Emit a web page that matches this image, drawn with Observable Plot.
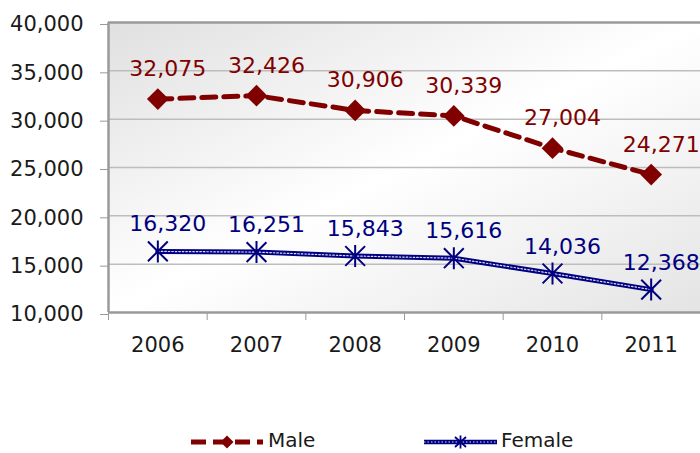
<!DOCTYPE html>
<html><head><meta charset="utf-8">
<script src="https://cdn.jsdelivr.net/npm/d3@7"></script>
<script src="https://cdn.jsdelivr.net/npm/@observablehq/plot@0.6"></script>
<style>
body{margin:0;background:#fff;font-family:"DejaVu Sans",sans-serif;}
#chart{position:relative;width:700px;height:453px;overflow:hidden;}
#chart svg.plot{display:block;}
#legend{position:absolute;left:0;top:420px;width:700px;height:33px;}
.sw{position:absolute;top:12px;}
.lt{position:absolute;top:10px;font-size:20px;line-height:20px;color:#1a1a1a;font-family:"DejaVu Sans",sans-serif;}
</style></head><body>
<div id="chart"></div>
<script>
// ---- data ----
const years = [2006, 2007, 2008, 2009, 2010, 2011];
const male = [32075, 32426, 30906, 30339, 27004, 24271];
const female = [16320, 16251, 15843, 15616, 14036, 12368];
const yTicks = [10000, 15000, 20000, 25000, 30000, 35000, 40000];
const seriesNames = ["Male", "Female"];

const maleRows = years.map((y, i) => ({year: y, value: male[i], series: seriesNames[0]}));
const femaleRows = years.map((y, i) => ({year: y, value: female[i], series: seriesNames[1]}));
const bandEdges = [years[0] - 0.5, ...years.map(y => y + 0.5)];

const maleColor = "#800000";
const femaleColor = "#000080";
const fmt = d3.format(",");

const star = {
  draw(ctx, size) {
    const r = Math.sqrt(size / Math.PI);
    const k = r * 0.9;
    ctx.moveTo(0, -r); ctx.lineTo(0, r);
    ctx.moveTo(-k, -k); ctx.lineTo(k, k);
    ctx.moveTo(-k, k); ctx.lineTo(k, -k);
  }
};

const plot = Plot.plot({
  width: 700,
  height: 420,
  marginTop: 22,
  marginBottom: 108,
  marginLeft: 108,
  marginRight: 0,
  style: {fontFamily: "DejaVu Sans, sans-serif", fontSize: "21px", color: "#1a1a1a", background: "transparent", overflow: "visible"},
  x: {type: "linear", domain: [years[0] - 0.5, years[years.length - 1] + 0.5], label: null},
  y: {domain: [yTicks[0], yTicks[yTicks.length - 1]], label: null},
  marks: [
    Plot.frame({fill: "url(#plotbg)", stroke: "none"}),
    Plot.gridY(yTicks.slice(1, -1), {stroke: "#bdbdbd", strokeOpacity: 1, strokeWidth: 1.5}),
    Plot.ruleY([yTicks[0], yTicks[yTicks.length - 1]], {stroke: "#9a9a9a", strokeWidth: 2.5}),
    Plot.ruleX([bandEdges[0]], {stroke: "#9a9a9a", strokeWidth: 2.5}),
    Plot.axisY({ticks: yTicks, tickSize: 8, tickPadding: 17, tickFormat: fmt, stroke: "#9a9a9a", fontSize: 21, dy: 2, label: null}),
    Plot.axisX({ticks: bandEdges, tickSize: 8, tickFormat: () => "", stroke: "#9a9a9a", label: null}),
    Plot.axisX({ticks: years, tickSize: 0, tickPadding: 25, tickFormat: d => String(d), fontSize: 21, label: null}),
    // Male
    Plot.line(maleRows, {x: "year", y: "value", stroke: maleColor, strokeWidth: 5, strokeDasharray: "14,8"}),
    Plot.dot(maleRows, {x: "year", y: "value", symbol: "diamond2", r: 9.8, fill: maleColor, stroke: "none"}),
    Plot.text(maleRows, {x: "year", y: "value", text: d => fmt(d.value), dx: 10, dy: -30, fill: maleColor, fontSize: 22}),
    // Female
    Plot.line(femaleRows, {x: "year", y: "value", stroke: femaleColor, strokeWidth: 5}),
    Plot.line(femaleRows, {x: "year", y: "value", stroke: "#ffffff", strokeWidth: 1.2, strokeDasharray: "1.5,2", strokeOpacity: 0.85}),
    Plot.dot(femaleRows, {x: "year", y: "value", symbol: star, r: 11, fill: "none", stroke: femaleColor, strokeWidth: 2}),
    Plot.text(femaleRows, {x: "year", y: "value", text: d => fmt(d.value), dx: 10, dy: -27, fill: femaleColor, fontSize: 22})
  ]
});

d3.select(plot).insert("defs", ":first-child").html(
  '<linearGradient id="plotbg" x1="0" y1="0" x2="1" y2="1">' +
  '<stop offset="0" stop-color="#e0e0e0"/>' +
  '<stop offset="0.5" stop-color="#ffffff"/>' +
  '<stop offset="1" stop-color="#e4e4e4"/>' +
  '</linearGradient>'
);

const chart = document.getElementById("chart");
chart.appendChild(plot);

const legend = document.createElement("div");
legend.id = "legend";
legend.innerHTML =
  '<svg class="sw" style="left:191px" width="72" height="20">' +
    '<line x1="0" y1="10" x2="72" y2="10" stroke="' + maleColor + '" stroke-width="5" stroke-dasharray="15,7"/>' +
    '<path d="M36,3.5L42.5,10L36,16.5L29.5,10Z" fill="' + maleColor + '"/>' +
  '</svg>' +
  '<span class="lt" style="left:268px">' + seriesNames[0] + '</span>' +
  '<svg class="sw" style="left:424px" width="73" height="20">' +
    '<line x1="0" y1="10" x2="73" y2="10" stroke="' + femaleColor + '" stroke-width="4.5"/>' +
    '<line x1="0" y1="10" x2="73" y2="10" stroke="#fff" stroke-width="1.1" stroke-dasharray="1.5,2" stroke-opacity="0.85"/>' +
    '<path d="M36.5,3.5V16.5M31,5L42,15M31,15L42,5" stroke="' + femaleColor + '" stroke-width="1.8" fill="none"/>' +
  '</svg>' +
  '<span class="lt" style="left:501px">' + seriesNames[1] + '</span>';
chart.appendChild(legend);
</script>
</body></html>
